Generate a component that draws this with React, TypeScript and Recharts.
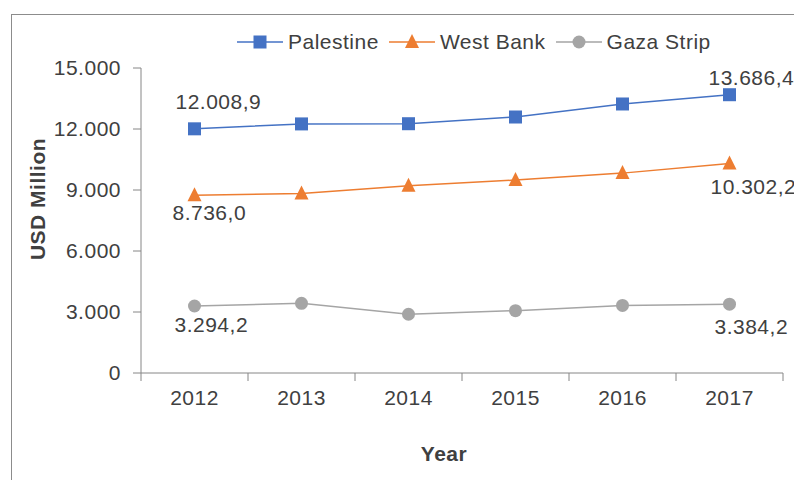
import { LineChart, Line, XAxis, YAxis, LabelList, Label } from 'recharts';

const years = [2012, 2013, 2014, 2015, 2016, 2017];
const palestine = [12008.9, 12250, 12260, 12590, 13230, 13686.4];
const westBank = [8736.0, 8830, 9215, 9490, 9830, 10302.2];
const gaza = [3294.2, 3428, 2890, 3065, 3325, 3384.2];
const yTicks = [0, 3000, 6000, 9000, 12000, 15000];
const yearEdges = [2011.5, 2012.5, 2013.5, 2014.5, 2015.5, 2016.5, 2017.5];
const labelledIdx = [0, 5];

const FONT = '"Liberation Sans", Arial, sans-serif';
const TEXT = '#404040';
const AXIS = '#868686';
const BLUE = '#4472C4';
const ORANGE = '#ED7D31';
const GREY = '#A5A5A5';
const LS = 0.5;

const W = 794;
const H = 480;
const PLOT_LEFT = 141;
const PLOT_RIGHT = 783;
const HALF_BAND = (PLOT_RIGHT - PLOT_LEFT) / years.length / 2;

const data = years.map((y, i) => ({
  year: y,
  palestine: palestine[i],
  westBank: westBank[i],
  gaza: gaza[i],
}));

const fmtTick = (v: number) => (v === 0 ? '0' : v.toFixed(0).replace(/\B(?=(\d{3})+(?!\d))/g, '.'));
const fmtLabel = (v: number) => {
  const [i, d] = v.toFixed(1).split('.');
  return i.replace(/\B(?=(\d{3})+(?!\d))/g, '.') + ',' + d;
};

// label offsets (first point, last point) relative to the marker
const offsets: Record<string, number[][]> = {
  palestine: [[-19, -27], [-21, -17]],
  westBank: [[-22, 17], [-19, 23]],
  gaza: [[-20, 18], [-15, 22]],
};

const SquareDot = (p: any) => (
  <rect key={`s${p.index}`} x={p.cx - 6.5} y={p.cy - 6.5} width={13} height={13} fill={BLUE} />
);
const TriangleDot = (p: any) => (
  <path key={`t${p.index}`} d={`M${p.cx},${p.cy - 8} L${p.cx + 7},${p.cy + 6} L${p.cx - 7},${p.cy + 6} Z`} fill={ORANGE} />
);
const CircleDot = (p: any) => <circle key={`c${p.index}`} cx={p.cx} cy={p.cy} r={6.5} fill={GREY} />;

const makeLabel = (series: string) => (p: any) => {
  const k = labelledIdx.indexOf(p.index);
  if (k < 0) return null;
  const [dx, dy] = offsets[series][k];
  return (
    <text x={p.x + dx} y={p.y + dy} dominantBaseline="central" fontSize={21} letterSpacing={LS} fontFamily={FONT} fill={TEXT}>
      {fmtLabel(Number(p.value))}
    </text>
  );
};

const YearTick = (p: any) => {
  const v = p.payload.value;
  if (v >= years[years.length - 1]) return <g />;
  return (
    <text x={p.x + HALF_BAND} y={p.y} dy="0.71em" textAnchor="middle" fontSize={21} letterSpacing={LS} fontFamily={FONT} fill={TEXT}>
      {v + 0.5}
    </text>
  );
};

const legendItems = [
  { name: 'Palestine', color: BLUE, shape: 'square' },
  { name: 'West Bank', color: ORANGE, shape: 'triangle' },
  { name: 'Gaza Strip', color: GREY, shape: 'circle' },
];

const LegendIcon = ({ color, shape }: { color: string; shape: string }) => (
  <svg width={46} height={20} style={{ display: 'block' }}>
    <line x1={0} y1={10} x2={46} y2={10} stroke={color} strokeWidth={1.5} />
    {shape === 'square' && <rect x={16.5} y={3.5} width={13} height={13} fill={color} />}
    {shape === 'triangle' && <path d="M23,2 L30,16 L16,16 Z" fill={color} />}
    {shape === 'circle' && <circle cx={23} cy={10} r={6.5} fill={color} />}
  </svg>
);

export default function App() {
  return (
    <div style={{ position: 'fixed', left: 0, top: 0, width: W, height: H, overflow: 'hidden', background: '#fff' }}>
      <div style={{ position: 'absolute', left: 11, top: 14, width: 820, height: 500, border: '1px solid #8c8c8c' }} />
      <div style={{ position: 'absolute', left: 0, top: 0 }}>
        <LineChart width={W} height={H} data={data} margin={{ top: 68, right: W - PLOT_RIGHT, bottom: 0, left: 0 }}>
          <XAxis
            dataKey="year"
            type="number"
            domain={[yearEdges[0], yearEdges[yearEdges.length - 1]]}
            ticks={yearEdges}
            height={107}
            stroke={AXIS}
            tickSize={8}
            tickMargin={9}
            tick={<YearTick />}
            interval={0}
          >
            <Label
              content={() => (
                <text x={444} y={453} textAnchor="middle" dominantBaseline="central" fontSize={21} letterSpacing={LS} fontWeight="bold" fontFamily={FONT} fill={TEXT}>
                  Year
                </text>
              )}
            />
          </XAxis>
          <YAxis
            type="number"
            domain={[0, 15000]}
            ticks={yTicks}
            width={PLOT_LEFT}
            stroke={AXIS}
            tickSize={8}
            tickMargin={12}
            tickFormatter={fmtTick}
            tick={{ fontSize: 21, fontFamily: FONT, fill: TEXT, letterSpacing: LS }}
            interval={0}
          >
            <Label
              content={() => (
                <text
                  x={37}
                  y={199}
                  transform="rotate(-90 37 199)"
                  textAnchor="middle"
                  dominantBaseline="central"
                  fontSize={21}
                  letterSpacing={LS}
                  fontWeight="bold"
                  fontFamily={FONT}
                  fill={TEXT}
                >
                  USD Million
                </text>
              )}
            />
          </YAxis>
          <Line dataKey="palestine" stroke={BLUE} strokeWidth={1.5} dot={SquareDot} activeDot={false} isAnimationActive={false}>
            <LabelList dataKey="palestine" content={makeLabel('palestine')} />
          </Line>
          <Line dataKey="westBank" stroke={ORANGE} strokeWidth={1.5} dot={TriangleDot} activeDot={false} isAnimationActive={false}>
            <LabelList dataKey="westBank" content={makeLabel('westBank')} />
          </Line>
          <Line dataKey="gaza" stroke={GREY} strokeWidth={1.5} dot={CircleDot} activeDot={false} isAnimationActive={false}>
            <LabelList dataKey="gaza" content={makeLabel('gaza')} />
          </Line>
        </LineChart>
      </div>
      <div
        style={{
          position: 'absolute',
          left: 237,
          top: 30,
          display: 'flex',
          alignItems: 'center',
          fontSize: 21,
          letterSpacing: LS,
          fontFamily: FONT,
          color: TEXT,
          whiteSpace: 'nowrap',
        }}
      >
        {legendItems.map((it) => (
          <div key={it.name} style={{ display: 'flex', alignItems: 'center', marginRight: 10 }}>
            <LegendIcon color={it.color} shape={it.shape} />
            <span style={{ marginLeft: 5 }}>{it.name}</span>
          </div>
        ))}
      </div>
    </div>
  );
}
